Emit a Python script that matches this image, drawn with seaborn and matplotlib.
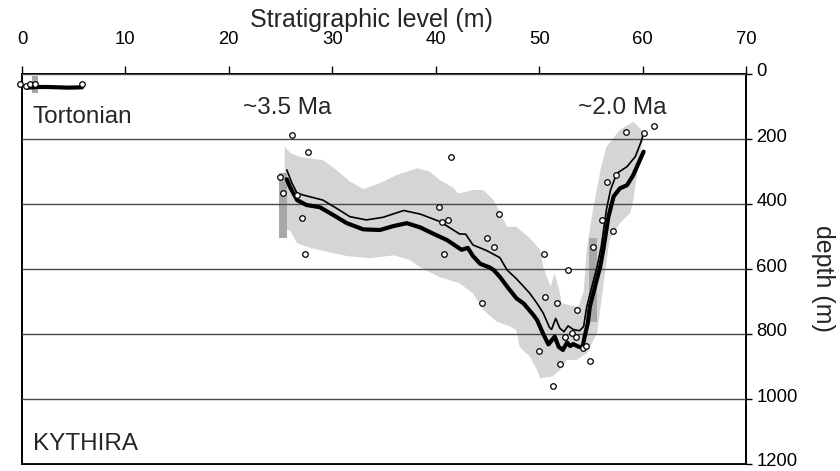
import numpy as np
import matplotlib
matplotlib.use("Agg")
import matplotlib.pyplot as plt
import matplotlib.transforms as mtransforms
import seaborn as sns

# ---------------- data ----------------
# thick curve (main reconstruction)
thick_x = [25.6, 25.9, 26.6, 27.5, 28.8, 30.1, 31.4, 33.0, 34.6, 35.9, 37.2, 38.5,
           39.8, 41.1, 42.5, 43.1, 43.6, 44.3, 45.2, 45.6, 46.2, 46.9, 47.8, 48.5,
           49.4, 49.8, 50.4, 50.9, 51.5, 51.9, 52.3, 52.7, 53.0, 53.3, 53.8, 54.2,
           54.4, 54.7, 54.9, 55.4, 55.9, 56.2, 56.7, 57.2, 57.8, 58.5, 59.1, 59.6, 60.1]
thick_y = [324, 347, 388, 403, 410, 434, 459, 478, 480, 468, 459, 472,
           492, 511, 541, 535, 560, 584, 595, 603, 624, 654, 690, 706,
           740, 757, 800, 832, 808, 840, 849, 826, 837, 831, 839, 841,
           808, 767, 716, 654, 593, 541, 439, 377, 352, 342, 311, 275, 239]

# thin curve
thin_x = [25.6, 26.1, 26.6, 27.5, 29.1, 30.4, 31.7, 33.3, 34.9, 36.9, 38.5, 40.4,
          42.3, 42.9, 43.6, 44.9, 46.2, 46.9, 47.8, 48.5, 49.1, 49.8, 50.4, 51.0,
          51.2, 51.6, 52.0, 52.4, 52.8, 53.3, 53.9, 54.3, 54.6, 55.1, 55.6, 56.0,
          56.5, 56.9, 57.5, 58.5, 59.3, 59.8, 60.1]
thin_y = [295, 336, 367, 375, 388, 413, 439, 449, 441, 420, 431, 454,
          492, 493, 526, 543, 565, 603, 630, 654, 675, 706, 736, 780,
          786, 752, 782, 793, 775, 786, 790, 777, 716, 654, 593, 531,
          418, 357, 306, 285, 254, 213, 183]

# Tortonian segment
tort_x = [0.5, 1.5, 2.5, 3.5, 4.5, 5.8]
tort_y = [42, 40, 40, 41, 42, 41]

# grey envelope: shallow edge and deep edge
band_up_x = [25.4, 26.0, 27.0, 29.1, 30.4, 31.7, 33.0, 34.6, 36.2, 38.2, 39.4, 40.4,
             41.7, 42.2, 43.6, 44.6, 45.6, 46.2, 46.9, 47.8, 49.1, 50.1, 50.4, 51.1,
             51.5, 51.9, 52.2, 53.0, 53.8, 54.3, 54.6, 55.2, 56.0, 56.5, 57.8, 59.1,
             59.9, 60.1]
band_up_y = [224, 244, 256, 265, 295, 331, 354, 336, 311, 290, 300, 326,
             350, 368, 357, 357, 388, 425, 470, 470, 505, 541, 593, 655,
             613, 660, 705, 712, 715, 670, 541, 418, 285, 224, 172, 147,
             172, 200]
band_lo_x = [25.4, 26.0, 26.6, 28.0, 29.5, 31.4, 33.6, 35.9, 37.5, 38.5, 40.4, 42.3,
             43.6, 44.6, 45.9, 47.2, 47.8, 48.1, 49.1, 49.8, 50.1, 51.3, 52.0, 52.7,
             53.6, 54.6, 55.6, 56.2, 56.8, 57.8, 58.8, 59.1, 59.4, 59.9, 60.1]
band_lo_y = [475, 485, 521, 536, 547, 560, 567, 558, 572, 595, 625, 644,
             675, 726, 762, 777, 788, 839, 870, 911, 936, 931, 911, 880,
             880, 860, 798, 654, 511, 459, 428, 388, 326, 224, 200]

# data points (open circles)
pt_x = [-0.2, 0.4, 0.8, 1.3, 5.8,
        24.9, 25.2, 26.1, 26.6, 27.1, 27.4, 27.7,
        40.3, 40.6, 41.2, 40.8, 41.5,
        44.5, 45.0, 45.6, 46.1,
        50.0, 50.5, 50.6, 51.3, 51.7, 52.0, 52.5, 52.8, 53.2, 53.6, 53.7, 54.2, 54.5, 54.9,
        55.2, 56.1, 56.6, 57.1, 57.4, 58.4, 60.1, 61.1]
pt_y = [32, 37, 32, 32, 32,
        316, 365, 188, 372, 444, 555, 239,
        410, 454, 449, 555, 254,
        704, 504, 531, 432,
        853, 555, 687, 960, 704, 892, 808, 604, 798, 808, 726, 844, 837, 882,
        531, 449, 332, 483, 310, 177, 182, 160]

# darker grey range bars
bar_x = [1.25, 25.2, 55.22]
bar_lo = [6, 306, 504]
bar_hi = [59, 506, 762]
bar_w = [0.62, 0.8, 0.75]

x_ticks = [0, 10, 20, 30, 40, 50, 60, 70]
y_ticks = [0, 200, 400, 600, 800, 1000, 1200]

# ---------------- figure ----------------
sns.set_style("white")
plt.rcParams["font.family"] = ["Liberation Sans", "DejaVu Sans"]

fig = plt.figure(figsize=(8.4, 4.71), dpi=100)
ax = fig.add_axes([22 / 840, 1 - 464 / 471, 724 / 840, 390 / 471])

# envelope
env_x = np.concatenate([band_up_x, band_lo_x[::-1]])
env_y = np.concatenate([band_up_y, band_lo_y[::-1]])
ax.fill(env_x, env_y, color="#d5d5d6", lw=0, zorder=1)

# bars
ax.bar(bar_x, np.array(bar_hi) - np.array(bar_lo), bottom=bar_lo, width=bar_w,
       color="#a8a8a8", lw=0, zorder=2)

# curves
sns.lineplot(x=thin_x, y=thin_y, sort=False, estimator=None, color="black",
             lw=1.2, ax=ax, zorder=4)
sns.lineplot(x=thick_x, y=thick_y, sort=False, estimator=None, color="black",
             lw=3.0, ax=ax, zorder=4)
sns.lineplot(x=tort_x, y=tort_y, sort=False, estimator=None, color="black",
             lw=3.0, ax=ax, zorder=4)

# points
sns.scatterplot(x=pt_x, y=pt_y, s=16, color="white", edgecolor="black",
                linewidth=0.9, ax=ax, zorder=6, clip_on=False)

# axes setup
ax.set_xlim(0, 70)
ax.set_ylim(1200, 0)
ax.set_xticks(x_ticks)
ax.set_yticks(y_ticks)
ax.xaxis.tick_top()
ax.xaxis.set_label_position("top")
ax.yaxis.tick_right()
ax.yaxis.set_label_position("right")
ax.tick_params(axis="x", direction="out", length=6, width=1, pad=12.5,
               labelsize=13.3, colors="black", top=True, bottom=False,
               labeltop=True, labelbottom=False)
ax.tick_params(axis="y", direction="out", length=4.5, width=1, pad=3,
               labelsize=13.3, colors="black", right=True, left=False,
               labelright=True, labelleft=False)

ax.set_axisbelow(False)
ax.yaxis.grid(True, color="#4a4a4a", lw=1.0)
ax.xaxis.grid(False)

for sp in ax.spines.values():
    sp.set_visible(True)
    sp.set_color("black")
    sp.set_linewidth(1.4)

ax.set_xlabel("Stratigraphic level (m)", fontsize=18)
ax.xaxis.set_label_coords(0.483, 1.12)
ax.set_ylabel("depth (m)", fontsize=18, rotation=270)
ax.yaxis.set_label_coords(1.107, 0.476)
ax.yaxis.label.set_va("center")
ax.yaxis.label.set_ha("center")

offset = mtransforms.ScaledTranslation(0, 0.04, fig.dpi_scale_trans)
for lbl in ax.get_yticklabels():
    lbl.set_transform(lbl.get_transform() + offset)

# annotations
ax.text(25.6, 124, "~3.5 Ma", ha="center", va="baseline", fontsize=17.5)
ax.text(58.0, 124, "~2.0 Ma", ha="center", va="baseline", fontsize=17.5)
ax.text(1.06, 152, "Tortonian", ha="left", va="baseline", fontsize=17.5)
ax.text(1.06, 1157, "KYTHIRA", ha="left", va="baseline", fontsize=17.5)

fig.savefig("out.png", dpi=100)
